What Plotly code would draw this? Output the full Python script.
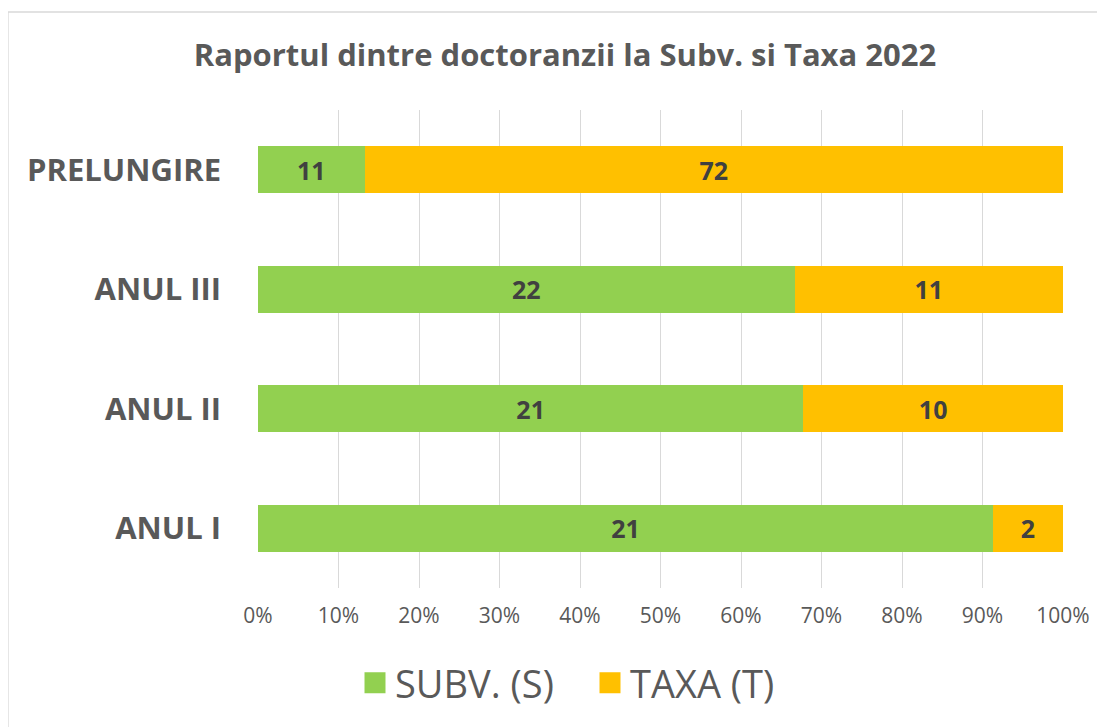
import plotly.graph_objects as go

categories = ["ANUL I", "ANUL II", "ANUL III", "PRELUNGIRE"]
subv_values = [21, 21, 22, 11]
taxa_values = [2, 10, 11, 72]
x_ticks = [0, 10, 20, 30, 40, 50, 60, 70, 80, 90, 100]
x_tick_labels = [f"{t}%" for t in x_ticks]
series_names = ["SUBV. (S)", "TAXA (T)"]
colors = ["#92D050", "#FFC000"]

FONT = "Open Sans"
GRAY = "#595959"

# page has an 8px body margin; figure sized so it fills the 1105x727 window
W, H = 1097, 719
OFF = 8
PL, PR, PT, PB = 258 - OFF, 1063 - OFF, 110 - OFF, 588 - OFF
PW, PH = PR - PL, PB - PT

fig = go.Figure()
for name, vals, col in zip(series_names, [subv_values, taxa_values], colors):
    fig.add_trace(go.Bar(
        y=categories, x=vals, name=name, orientation="h",
        marker=dict(color=col, line=dict(width=0)),
        text=[str(v) for v in vals], texttemplate="%{text}",
        textposition="inside", insidetextanchor="middle",
        textfont=dict(family=FONT, size=25, color="#404040", weight="bold"),
        textangle=0, showlegend=False, hoverinfo="skip",
    ))
    fig.add_trace(go.Scatter(
        x=[None], y=[None], mode="markers", name=name,
        marker=dict(symbol="square", size=16, color=col, line=dict(color=col, width=5)),
        showlegend=True,
    ))

bx = (8 - OFF - PL) / PW
by = (PB - (12 - OFF)) / PH

fig.update_layout(
    width=W, height=H,
    barmode="stack", barnorm="percent", bargap=0.61,
    paper_bgcolor="white", plot_bgcolor="white",
    margin=dict(l=PL, r=W - PR, t=PT, b=H - PB, autoexpand=False),
    title=dict(
        text="<b>Raportul dintre doctoranzii la Subv. si Taxa 2022</b>",
        x=(565 - OFF) / W, xanchor="center", y=1 - (55 - OFF) / H, yanchor="middle",
        font=dict(family=FONT, size=31, color=GRAY),
    ),
    xaxis=dict(
        range=[0, 100], tickvals=x_ticks, ticktext=x_tick_labels,
        showgrid=True, gridcolor="#D9D9D9", gridwidth=1.3,
        zeroline=False, showline=False, ticks="",
        tickfont=dict(family=FONT, size=21, color=GRAY),
        ticklabelstandoff=13,
    ),
    yaxis=dict(
        categoryorder="array", categoryarray=categories,
        showgrid=False, zeroline=False, showline=False, ticks="",
        tickfont=dict(family=FONT, size=31, color=GRAY, weight="bold"),
        ticklabelstandoff=36,
    ),
    legend=dict(
        orientation="h", x=(590 - OFF) / W, xref="container", xanchor="center",
        y=1 - (683 - OFF) / H, yref="container", yanchor="middle",
        font=dict(family=FONT, size=38, color=GRAY),
        itemwidth=30, tracegroupgap=0, itemsizing="trace", traceorder="normal",
        entrywidth=190, entrywidthmode="pixels",
    ),
    uniformtext=dict(minsize=25, mode="show"),
    shapes=[
        dict(type="line", xref="paper", yref="paper",
             x0=bx, x1=1.3, y0=by, y1=by,
             line=dict(color="#D9D9D9", width=1.3)),
        dict(type="line", xref="paper", yref="paper",
             x0=bx, x1=bx, y0=by, y1=-0.5,
             line=dict(color="#D9D9D9", width=1.3)),
    ],
)

fig.write_html("out.html")
